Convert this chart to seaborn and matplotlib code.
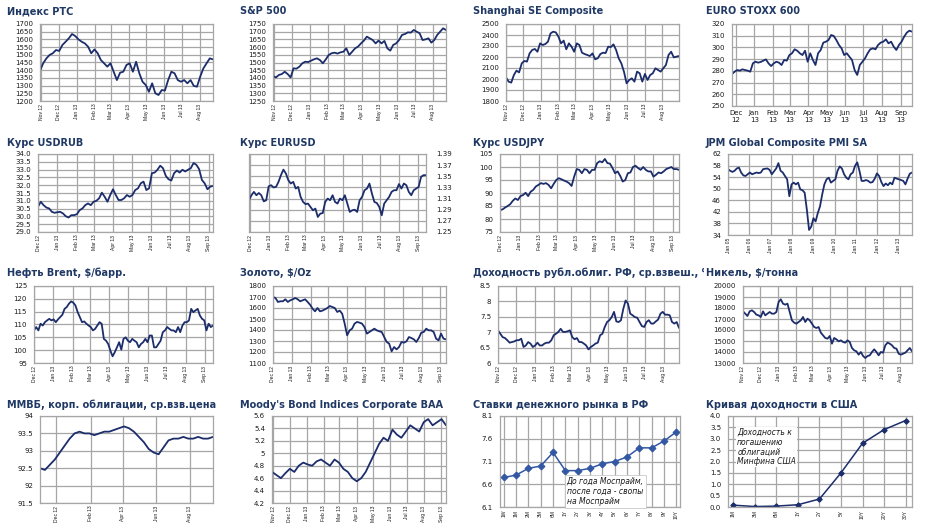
import numpy as np
import pandas as pd
import matplotlib
matplotlib.use("Agg")
import matplotlib.pyplot as plt
import matplotlib.dates as mdates
import seaborn as sns

W, H = 933, 529
LINE = '#1c2d6b'
MM_LINE = '#3257a3'
TITLE = '#1f3864'
GRID = '#a6a6a6'
TICK = '#1a1a1a'
NARROW = ['Liberation Sans Narrow', 'Liberation Sans', 'DejaVu Sans']

# ---- data ----
rts = [1397, 1445, 1477, 1499, 1510, 1531, 1525, 1564, 1585, 1607, 1635, 1622, 1600, 1585,
       1574, 1553, 1510, 1535, 1510, 1466, 1445, 1423, 1445, 1390, 1336, 1384, 1390, 1434,
       1445, 1390, 1455, 1380, 1325, 1304, 1260, 1315, 1250, 1239, 1271, 1268, 1336, 1390,
       1380, 1336, 1325, 1336, 1315, 1336, 1298, 1293, 1358, 1412, 1445, 1477, 1470]
rts_ticks = np.arange(1200, 1701, 50)

spx = [1412, 1403, 1419, 1425, 1440, 1425, 1403, 1462, 1460, 1473, 1495, 1505, 1503, 1512,
       1521, 1527, 1516, 1495, 1520, 1549, 1560, 1564, 1558, 1566, 1570, 1592, 1549, 1570,
       1592, 1603, 1624, 1642, 1668, 1657, 1646, 1624, 1642, 1624, 1640, 1592, 1577, 1614,
       1624, 1646, 1679, 1685, 1696, 1694, 1711, 1700, 1690, 1646, 1650, 1657, 1629, 1646,
       1679, 1700, 1722, 1711]
spx_ticks = np.arange(1250, 1751, 50)

shanghai = [2015, 1976, 1967, 2036, 2076, 2060, 2142, 2164, 2158, 2233, 2264, 2273, 2248,
            2324, 2309, 2318, 2339, 2415, 2430, 2424, 2385, 2324, 2349, 2270, 2324, 2294,
            2248, 2324, 2309, 2239, 2227, 2218, 2209, 2233, 2179, 2188, 2227, 2239, 2236,
            2294, 2290, 2315, 2264, 2188, 2142, 2067, 1961, 1991, 2006, 1976, 2067, 2052,
            1976, 2046, 1991, 2036, 2052, 2097, 2082, 2067, 2097, 2127, 2218, 2248, 2197,
            2203, 2209]
shanghai_ticks = np.arange(1800, 2501, 100)

stoxx = [277.3, 279.3, 280.7, 280.2, 281.3, 280.7, 280.2, 279.3, 286.4, 287.8, 287.0, 287.6,
         288.7, 289.8, 286.4, 284.1, 286.4, 287.8, 287.0, 285.0, 289.3, 288.7, 293.5, 295.0,
         298.4, 297.2, 295.0, 293.5, 297.2, 287.8, 295.0, 289.3, 285.0, 295.0, 297.8, 304.1,
         304.9, 306.3, 310.6, 309.8, 306.3, 302.1, 299.2, 293.5, 295.0, 292.1, 289.3, 280.7,
         276.5, 285.0, 287.8, 290.7, 295.0, 298.4, 299.2, 298.4, 302.1, 304.1, 304.9, 306.9,
         303.5, 304.9, 300.6, 297.8, 302.1, 304.9, 309.2, 312.6, 314.3, 313.5]
stoxx_ticks = np.arange(250, 321, 10)

usdrub = [30.62, 30.94, 30.72, 30.57, 30.51, 30.29, 30.23, 30.27, 30.29, 30.19, 30.01, 29.93,
          30.08, 30.08, 30.14, 30.40, 30.51, 30.72, 30.83, 30.72, 30.94, 31.00, 31.16, 31.52,
          31.26, 30.94, 31.37, 31.74, 31.37, 31.05, 31.05, 31.16, 31.37, 31.26, 31.37, 31.69,
          31.80, 32.12, 32.23, 31.69, 31.80, 32.77, 32.81, 32.99, 33.25, 33.09, 32.60, 32.38,
          32.30, 32.77, 32.94, 32.81, 32.99, 32.88, 32.99, 33.09, 33.42, 33.31, 33.03, 32.34,
          32.12, 31.74, 31.91, 31.95]
usdrub_ticks = np.arange(29.0, 34.01, 0.5)

eurusd = [1.307, 1.316, 1.322, 1.316, 1.320, 1.316, 1.305, 1.307, 1.332, 1.334, 1.330, 1.331,
          1.340, 1.352, 1.362, 1.355, 1.343, 1.337, 1.340, 1.328, 1.331, 1.313, 1.304, 1.300,
          1.301, 1.295, 1.289, 1.292, 1.277, 1.283, 1.284, 1.304, 1.310, 1.307, 1.316, 1.304,
          1.301, 1.310, 1.307, 1.316, 1.301, 1.286, 1.289, 1.290, 1.286, 1.307, 1.313, 1.325,
          1.328, 1.337, 1.319, 1.304, 1.302, 1.295, 1.280, 1.301, 1.307, 1.313, 1.322, 1.325,
          1.325, 1.336, 1.328, 1.337, 1.334, 1.322, 1.316, 1.325, 1.328, 1.331, 1.349, 1.352,
          1.352]
eurusd_ticks = np.arange(1.25, 1.3901, 0.02)

usdjpy = [83.4, 83.7, 84.4, 85.0, 85.7, 87.0, 87.9, 87.3, 88.8, 89.2, 90.1, 88.8, 90.5, 91.2,
          92.5, 93.1, 93.8, 93.5, 93.8, 93.1, 91.8, 93.5, 95.0, 95.7, 95.3, 94.8, 94.4, 93.8,
          92.7, 96.3, 99.2, 98.9, 97.6, 99.2, 98.9, 97.6, 98.9, 98.9, 101.5, 102.2, 101.8,
          103.1, 101.5, 101.3, 99.6, 97.6, 98.3, 96.6, 94.4, 95.0, 97.6, 97.9, 100.0, 100.5,
          99.6, 98.9, 100.0, 98.9, 98.3, 98.3, 96.3, 97.0, 97.9, 97.6, 98.3, 99.2, 99.6, 100.0,
          99.2, 99.2, 98.9]
usdjpy_ticks = np.arange(75, 106, 5)

pmi = [56.75, 56.2, 55.8, 56.2, 57.0, 57.3, 55.6, 54.6, 54.4, 55.0, 55.6, 55.0, 55.3, 55.6,
       55.4, 55.6, 56.75, 56.9, 57.0, 56.5, 55.0, 56.0, 57.0, 58.85, 56.2, 55.6, 54.4, 53.25,
       47.4, 51.5, 52.1, 51.5, 52.1, 49.75, 49.5, 48.6, 42.75, 35.75, 36.9, 39.8, 38.7, 41.6,
       43.9, 48.0, 51.5, 53.25, 53.8, 52.1, 52.7, 53.25, 56.2, 57.7, 57.0, 55.0, 53.8, 53.25,
       55.0, 55.6, 57.9, 59.1, 56.2, 52.7, 52.7, 53.0, 52.7, 52.1, 52.3, 53.5, 55.3, 54.4,
       52.3, 50.9, 51.8, 51.2, 52.1, 51.5, 53.8, 53.5, 53.25, 53.0, 52.7, 51.5, 53.5, 55.2,
       55.6]
pmi_ticks = np.arange(34, 63, 4)

brent = [107.7, 109.0, 107.7, 110.3, 109.6, 110.9, 111.6, 112.2, 111.6, 112.0, 110.9, 112.0,
         112.9, 113.8, 116.1, 116.8, 118.1, 119.0, 118.5, 117.4, 114.8, 112.9, 110.9, 111.2,
         110.3, 109.6, 109.0, 107.7, 108.3, 109.6, 110.9, 110.3, 104.4, 103.7, 102.4, 99.8,
         97.6, 99.2, 101.1, 103.1, 100.2, 104.4, 105.0, 103.7, 103.1, 104.4, 103.7, 103.1,
         101.1, 102.4, 103.1, 104.4, 103.1, 105.7, 105.7, 101.1, 101.1, 102.4, 103.7, 107.0,
         107.7, 109.0, 108.3, 107.7, 107.7, 107.0, 109.0, 107.0, 109.6, 110.9, 110.9, 111.6,
         116.1, 114.8, 115.5, 116.1, 113.5, 112.2, 111.6, 107.7, 110.3, 109.0, 109.6]
brent_ticks = np.arange(95, 126, 5)

gold = [1700, 1691, 1655, 1661, 1661, 1679, 1655, 1670, 1679, 1691, 1679, 1661, 1670, 1679,
        1655, 1630, 1594, 1570, 1600, 1570, 1576, 1588, 1600, 1618, 1609, 1600, 1564, 1576,
        1548, 1458, 1352, 1397, 1412, 1458, 1473, 1467, 1458, 1427, 1367, 1382, 1397, 1412,
        1397, 1388, 1382, 1336, 1291, 1276, 1206, 1245, 1224, 1245, 1291, 1285, 1297, 1336,
        1327, 1315, 1291, 1327, 1376, 1382, 1412, 1397, 1397, 1382, 1321, 1306, 1367, 1321,
        1315]
gold_ticks = np.arange(1100, 1801, 100)

ofz_yield = [7.06, 6.95, 6.84, 6.81, 6.74, 6.66, 6.68, 6.70, 6.74, 6.74, 6.79, 6.52, 6.57,
             6.68, 6.63, 6.52, 6.57, 6.66, 6.57, 6.57, 6.63, 6.66, 6.66, 6.74, 6.90, 6.95,
             7.01, 7.11, 7.01, 7.01, 7.03, 7.06, 6.84, 6.77, 6.81, 6.68, 6.68, 6.63, 6.57,
             6.44, 6.52, 6.57, 6.63, 6.66, 6.90, 6.95, 7.17, 7.33, 7.39, 7.49, 7.66, 7.35,
             7.33, 7.39, 7.76, 8.03, 7.93, 7.60, 7.55, 7.49, 7.47, 7.33, 7.20, 7.17, 7.33,
             7.39, 7.28, 7.28, 7.35, 7.41, 7.60, 7.66, 7.57, 7.57, 7.55, 7.33, 7.28, 7.33, 7.14]
ofz_ticks = np.arange(6.0, 8.51, 0.5)

nickel = [17697, 17485, 17273, 17697, 17788, 17636, 17394, 17333, 17182, 17697, 17333, 17485,
          17636, 17485, 17485, 17636, 18545, 18788, 18394, 18303, 18394, 17636, 16879, 16667,
          16576, 16727, 16879, 17182, 16727, 17030, 16879, 16576, 16273, 16182, 16273, 15758,
          15515, 15273, 15212, 15455, 14758, 15273, 15152, 14970, 15061, 14909, 14848, 15061,
          14909, 14364, 14152, 14061, 13758, 14000, 13636, 13455, 13636, 13697, 14000, 14242,
          14000, 13697, 14000, 13939, 14606, 14848, 14758, 14606, 14364, 14303, 13848, 13758,
          13848, 13939, 14152, 14364, 14061]
nickel_ticks = np.arange(13000, 20001, 1000)

mmvb = [92.5, 92.45, 92.6, 92.75, 92.95, 93.15, 93.35, 93.5, 93.55, 93.5, 93.5, 93.45, 93.5,
        93.55, 93.55, 93.6, 93.65, 93.7, 93.65, 93.55, 93.4, 93.25, 93.05, 92.95, 92.9, 93.1,
        93.3, 93.35, 93.35, 93.4, 93.35, 93.35, 93.4, 93.35, 93.35, 93.4]
mmvb_ticks = np.arange(91.5, 94.01, 0.5)

baa = [4.7, 4.65, 4.6, 4.68, 4.75, 4.7, 4.8, 4.85, 4.82, 4.8, 4.87, 4.9, 4.85, 4.8, 4.9, 4.85,
       4.75, 4.7, 4.6, 4.55, 4.6, 4.7, 4.85, 5.0, 5.15, 5.25, 5.2, 5.38, 5.3, 5.25, 5.35, 5.45,
       5.4, 5.35, 5.5, 5.55, 5.45, 5.5, 5.55, 5.45]
baa_ticks = np.arange(4.2, 5.61, 0.2)

mm_terms = ['1W', '1M', '2M', '3M', '6M', '1Y', '2Y', '3Y', '4Y', '5Y', '6Y', '7Y', '8Y', '9Y', '10Y']
mm_rates = [6.75, 6.8, 6.95, 7.0, 7.3, 6.9, 6.9, 6.95, 7.05, 7.1, 7.2, 7.4, 7.4, 7.55, 7.75]
mm_ticks = np.arange(6.1, 8.11, 0.5)

us_terms = ['1M', '3M', '6M', '1Y', '2Y', '5Y', '10Y', '20Y', '30Y']
us_yields = [0.08, 0.02, 0.04, 0.1, 0.35, 1.5, 2.8, 3.4, 3.8]
us_ticks = np.arange(0.0, 4.01, 0.5)

sns.set_style("white")
plt.rcParams['font.family'] = ['DejaVu Sans']

fig = plt.figure(figsize=(W / 100, H / 100), dpi=100)


def make_axes(l, t, r, b):
    return fig.add_axes([l / W, 1 - b / H, (r - l) / W, (b - t) / H])


def add_title(x, y, text, cover=False):
    kw = {}
    if cover:
        kw['bbox'] = dict(facecolor='white', edgecolor='none', pad=1.5)
    fig.text(x / W, 1 - y / H, text, fontsize=7, fontweight='bold', color=TITLE,
             ha='left', va='center', **kw)


def style_axes(ax, yticks, yfmt, xrot=90):
    ax.set_ylim(yticks[0], yticks[-1])
    ax.set_yticks(yticks)
    ax.set_yticklabels([yfmt.format(v) for v in yticks])
    ax.grid(True, color=GRID, lw=0.9)
    ax.set_axisbelow(True)
    for s in ax.spines.values():
        s.set_color(GRID)
        s.set_linewidth(0.9)
    ax.tick_params(axis='y', length=0, labelsize=5, labelcolor=TICK, pad=5)
    if xrot:
        ax.tick_params(axis='x', length=0, labelsize=3.6, labelcolor=TICK, pad=2,
                       labelrotation=90, labelfontfamily=NARROW)
    else:
        ax.tick_params(axis='x', length=0, labelsize=5, labelcolor=TICK, pad=3)
    ax.set_xlabel('')
    ax.set_ylabel('')


def ts_panel(rect, start, end, values, yticks, yfmt, locator=None, fmt='%b %y', xrot=90):
    ax = make_axes(*rect)
    dates = pd.date_range(start, end, periods=len(values))
    df = pd.DataFrame({'date': dates, 'value': values})
    sns.lineplot(data=df, x='date', y='value', ax=ax, color=LINE, lw=1.3)
    ax.set_xlim(dates[0], dates[-1])
    ax.xaxis.set_major_locator(locator or mdates.MonthLocator())
    ax.xaxis.set_major_formatter(mdates.DateFormatter(fmt))
    style_axes(ax, yticks, yfmt, xrot)
    return ax


def cat_panel(rect, terms, values, yticks, yfmt, color, ms, pad_lo, pad_hi):
    ax = make_axes(*rect)
    df = pd.DataFrame({'term': terms, 'value': values})
    sns.lineplot(data=df, x='term', y='value', sort=False, ax=ax, color=color, lw=1.1,
                 marker='D', markersize=ms, markeredgecolor=color)
    ax.set_xlim(-pad_lo, len(terms) - 1 + pad_hi)
    style_axes(ax, yticks, yfmt)
    return ax


# row 1
add_title(7, 11, 'Индекс РТС')
ts_panel((40, 24, 213, 101), '2012-10-30', '2013-08-24', rts, rts_ticks, '{:.0f}')
add_title(240, 11, 'S&P 500')
ts_panel((273, 24, 446, 101), '2012-10-30', '2013-08-24', spx, spx_ticks, '{:.0f}')
add_title(473, 11, 'Shanghai SE Composite')
ts_panel((506, 24, 679, 101), '2012-11-01', '2013-08-30', shanghai, shanghai_ticks, '{:.0f}')
add_title(706, 11, 'EURO STOXX 600')
ts_panel((732, 24, 912, 106), '2012-11-25', '2013-09-20', stoxx, stoxx_ticks, '{:.0f}',
         fmt='%b\n%y', xrot=0)

# row 2
add_title(7, 143, 'Курс USDRUB')
ts_panel((38, 154, 213, 232), '2012-12-01', '2013-09-08', usdrub, usdrub_ticks, '{:.1f}')
add_title(240, 143, 'Курс EURUSD')
ax_eur = ts_panel((249, 154, 426, 232), '2012-11-29', '2013-09-14', eurusd, eurusd_ticks, '{:.2f}')
ax_eur.yaxis.tick_right()
ax_eur.tick_params(axis='y', pad=7)
add_title(473, 143, 'Курс USDJPY')
ts_panel((500, 154, 679, 232), '2012-12-01', '2013-09-11', usdjpy, usdjpy_ticks, '{:.0f}')
add_title(706, 143, 'JPM Global Composite PMI SA')
ts_panel((728, 154, 912, 235), '2005-01-01', '2013-08-20', pmi, pmi_ticks, '{:.0f}',
         locator=mdates.YearLocator())

# row 3
add_title(7, 273, 'Нефть Brent, $/барр.')
ts_panel((34, 286, 213, 363), '2012-12-01', '2013-09-14', brent, brent_ticks, '{:.0f}')
add_title(240, 273, 'Золото, $/Oz')
ts_panel((273, 286, 446, 363), '2012-12-01', '2013-09-10', gold, gold_ticks, '{:.0f}')
add_title(473, 273, 'Доходность рубл.облиг. РФ, ср.взвеш., %')
ts_panel((498, 286, 679, 363), '2012-11-01', '2013-08-26', ofz_yield, ofz_ticks, '{:g}')
add_title(706, 273, 'Никель, $/тонна', cover=True)
ts_panel((743, 286, 912, 363), '2012-11-01', '2013-08-21', nickel, nickel_ticks, '{:.0f}')

# row 4
add_title(7, 405, 'ММВБ, корп. облигации, ср.взв.цена')
ts_panel((40, 416, 213, 503), '2012-11-01', '2013-09-12', mmvb, mmvb_ticks, '{:g}',
         locator=mdates.MonthLocator(interval=2))
add_title(240, 405, "Moody's Bond Indices Corporate BAA")
ts_panel((272, 416, 446, 503), '2012-10-30', '2013-09-10', baa, baa_ticks, '{:g}')
add_title(473, 405, 'Ставки денежного рынка в РФ')
ax_mm = cat_panel((500, 416, 680, 507), mm_terms, mm_rates, mm_ticks, '{:.1f}', MM_LINE, 3.5, 0.3, 0.3)
ax_mm.text(0.37, 0.17, 'До года Моспрайм,\nпосле года - свопы\nна Моспрайм',
           transform=ax_mm.transAxes, fontsize=5.5, style='italic', color='#1a1a1a',
           ha='left', va='center', linespacing=1.1,
           bbox=dict(facecolor='white', edgecolor='#bfbfbf', lw=0.5, pad=1.5))
add_title(706, 405, 'Кривая доходности в США')
ax_us = cat_panel((728, 416, 912, 507), us_terms, us_yields, us_ticks, '{:.1f}', LINE, 2.8, 0.25, 0.3)
ax_us.text(0.05, 0.66, 'Доходность к\nпогашению\nоблигаций\nМинфина США',
           transform=ax_us.transAxes, fontsize=5.5, style='italic', color='#1a1a1a',
           ha='left', va='center', linespacing=1.1,
           bbox=dict(facecolor='white', edgecolor='none', pad=1))

fig.savefig('out.png', dpi=100)
